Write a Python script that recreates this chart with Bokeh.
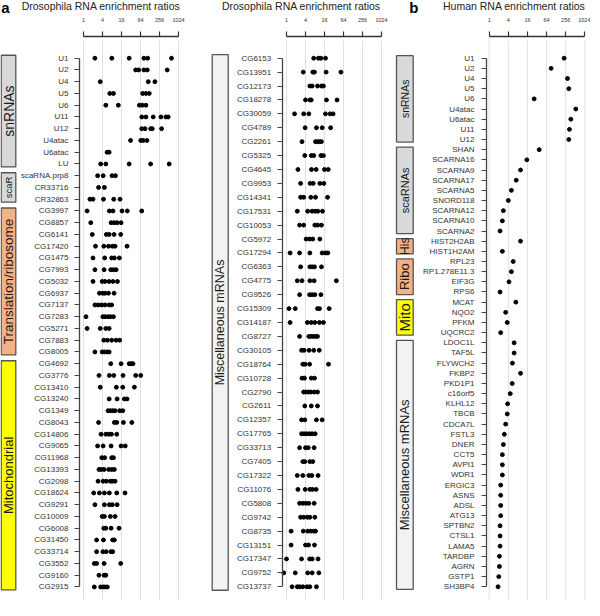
import math
from bokeh.plotting import figure
from bokeh.models import (Range1d, LogScale, LogAxis, LinearAxis, FixedTicker, Label,
                          ColumnDataSource)
from bokeh.layouts import row
from bokeh.embed import file_html
from bokeh.resources import INLINE
from bokeh.core.properties import value

# ---------------- data ----------------
TICKS = [1, 4, 16, 64, 256, 1024]
TICK_LABELS = ["1", "4", "16", "64", "256", "1024"]

dros1_names = ["U1", "U2", "U4", "U5", "U6", "U11", "U12", "U4atac", "U6atac", "LU",
               "scaRNA.prp8", "CR33716", "CR32863",
               "CG3997", "CG8857", "CG6141", "CG17420", "CG1475", "CG7993", "CG5032",
               "CG6937", "CG7137", "CG7283", "CG5271", "CG7883", "CG8005",
               "CG4692", "CG3776", "CG13410", "CG13240", "CG1349", "CG8043", "CG14806",
               "CG9065", "CG11968", "CG13393", "CG2098", "CG18624", "CG9291", "CG10009",
               "CG6008", "CG31450", "CG33714", "CG3552", "CG9160", "CG2915"]
dros1_ratios = [
    [2.3, 7.9, 28, 82, 108, 615], [45, 56, 82, 105, 449], [3.4, 113, 183],
    [6.8, 8.9, 75, 95, 121], [5.1, 12.7, 59, 73, 95], [70, 95, 162, 284, 408, 483],
    [70, 89, 134, 151, 298], [31, 65, 78, 102], [5.6, 6.5], [3.5, 5.1, 28, 134, 519],
    [2.8, 4.2, 8.0, 10.3], [3.0, 4.6], [1.6, 2.0, 4.3, 9.1, 14.4],
    [1.3, 6.6, 8.6, 16.6, 24.5, 70], [1.7, 7.5, 9.3, 11.6, 15.5], [1.9, 5.3, 6.5, 9.3, 15.1],
    [2.4, 4.4, 6.2, 8.2, 10, 24], [2.0, 4.7, 7.8, 9.5, 13.7], [2.3, 4.5, 7.3, 8.9, 10.8],
    [2.0, 3.9, 4.8, 6.5, 8.6, 11.9], [3.2, 4.1, 4.8, 6.2, 9.3], [2.3, 2.9, 3.7, 4.8, 6.5, 7.8],
    [1.2, 4.1, 4.8, 5.9, 7.1, 8.9], [1.3, 3.4, 5.1, 6.5], [4.4, 5.7, 7.8, 10.8, 14],
    [2.3, 3.9, 4.6, 5.6, 6.5],
    [7.3, 15.5, 28, 32, 37], [3.1, 6.6, 9.1, 17.9, 45, 65], [3.4, 11, 17.5, 41],
    [6.5, 11.6, 19.7, 24], [6.0, 7.1, 8.4, 10, 14, 17.5], [3.0, 9.5, 11.3, 18.4, 34],
    [3.6, 5.1, 6.3, 7.7, 11.3], [2.8, 4.2, 7.5, 15.5, 21], [3.8, 4.7, 7.8, 8.9],
    [3.1, 3.7, 4.5, 6.3, 7.8, 9.5], [2.9, 4.2, 5.3, 7.1, 8.2, 10],
    [2.1, 3.2, 4.6, 6.6, 11.3, 20.7], [2.3, 4.6, 6.6, 8.2, 11.6], [3.9, 4.6, 7.1, 10],
    [4.4, 5.1, 7.5, 13.4], [2.6, 4.3, 8.4, 9.5], [2.6, 4.1, 5.2, 7.3, 8.4],
    [2.2, 2.6, 4.5, 15.1], [3.1, 4.5, 5.1], [2.2, 3.5, 4.2, 4.8, 5.7]]
dros1_groups = ["snRNAs", "scaR", "Translation/ribosome", "Mitochondrial"]
dros1_group_sizes = [10, 3, 13, 20]

dros2_names = ["CG6153", "CG13951", "CG12173", "CG18278", "CG30059", "CG4789", "CG2261",
               "CG5325", "CG4645", "CG9953", "CG14341", "CG17531", "CG10053", "CG5972",
               "CG17294", "CG6363", "CG4775", "CG9526", "CG15309", "CG14187", "CG8727",
               "CG30105", "CG18764", "CG10728", "CG2790", "CG2611", "CG12357", "CG17765",
               "CG33713", "CG7405", "CG17322", "CG11076", "CG5808", "CG9742", "CG8735",
               "CG13151", "CG17347", "CG9752", "CG13737"]
dros2_ratios = [
    [7.3, 10.3, 12.3, 17.2], [3.4, 6.8, 7.7, 18, 53], [5.5, 6.5, 9.6, 12.8, 14.8],
    [4.0, 5.5, 6.1, 18.5, 40], [1.8, 3.5, 5.1, 17.2, 24, 30], [3.9, 8.9, 13.5, 25],
    [3.1, 8.3, 9.6, 11.1, 12.8], [3.8, 6.1, 7.3, 12.3, 14.8], [2.3, 6.2, 8.7, 16, 21],
    [2.8, 5.6, 7.0, 11.4, 15.2], [2.8, 3.5, 5.9, 8.3, 20], [2.2, 4.7, 6.5, 8.1, 9.8, 13.8],
    [2.6, 3.5, 7.9, 9.8, 12.8], [4.2, 5.4, 6.8, 11.4], [1.3, 2.6, 5.5, 13.5, 17.2, 20.4],
    [2.8, 5.5, 6.5, 7.7, 12.8], [2.2, 3.1, 5.5, 7.5, 38], [2.6, 5.4, 6.5, 7.9, 12.3],
    [1.2, 1.9, 9.6, 11.1, 22.5], [1.3, 4.6, 6.1, 7.9, 11.1, 14.8],
    [2.6, 5.1, 5.9, 7.0, 8.3, 9.6], [3.0, 3.6, 5.2, 7.3, 10.9], [3.3, 3.9, 5.4, 21.4],
    [3.1, 3.7, 6.1, 7.7], [3.5, 4.1, 4.9, 5.9, 7.5, 9.6], [3.8, 6.1, 9.6],
    [3.0, 3.8, 8.9, 13.5], [3.0, 3.6, 4.4, 5.4, 6.5, 8.1], [2.6, 4.0, 4.9, 7.5],
    [3.3, 3.8, 5.5, 6.8], [2.2, 3.3, 5.1, 6.3, 10], [2.3, 3.9, 5.5, 6.7, 8.7],
    [2.6, 3.3, 4.1, 5.1, 7.5], [2.8, 3.5, 4.6, 5.5, 7.9], [1.4, 3.4, 4.7, 5.9, 7.3, 8.3],
    [1.4, 4.0, 5.0, 7.7], [1.0, 3.0, 5.4, 6.5, 10], [0.82, 1.9, 4.7, 6.5, 10.6],
    [1.5, 2.2, 2.6, 3.3, 4.5, 5.5, 8.9]]
dros2_groups = ["Miscellaneous mRNAs"]
dros2_group_sizes = [39]

human_names = ["U1", "U2", "U4", "U5", "U6", "U4atac", "U6atac", "U11", "U12",
               "SHAN", "SCARNA16", "SCARNA9", "SCARNA17", "SCARNA5", "SNORD118",
               "SCARNA12", "SCARNA10", "SCARNA2", "HIST2H2AB", "HIST1H2AM",
               "RPL23", "RP1.278E11.3", "EIF3G", "RPS6", "MCAT", "NQO2", "PFKM", "UQCRC2",
               "LDOC1L", "TAF5L", "FLYWCH2", "FKBP2", "PKD1P1", "c16orf5", "KLHL12", "TBCB",
               "CDCA7L", "FSTL3", "DNER", "CCT5", "AVPI1", "WDR1", "ERGIC3", "ASNS", "ADSL",
               "ATG13", "SPTBN2", "CTSL1", "LAMA5", "TARDBP", "AGRN", "GSTP1", "SH3BP4"]
human_ratios = [
    [229], [89], [292], [321], [26], [533], [372], [337], [321],
    [37.5], [15.3], [9.7], [7.1], [5.0], [4.0], [2.8], [2.6], [2.2], [9.7], [2.6],
    [5.7], [5.0], [4.2], [2.2], [6.9], [3.3], [3.7], [2.3],
    [6.1], [6.1], [5.4], [9.7], [5.3], [4.6], [3.8], [3.7], [3.3], [3.0], [2.8], [2.6],
    [2.6], [2.6], [2.3], [2.3], [2.3], [2.3], [2.2], [2.2], [2.2], [2.1], [2.1], [2.0], [1.9]]
human_groups = ["snRNAs", "scaRNAs", "His", "Ribo", "Mito", "Miscellaneous mRNAs"]
human_group_sizes = [9, 9, 2, 4, 4, 25]

# ---------------- styles / layout ----------------
GRAY, PEACH, YELLOW, LIGHT = "#D9D9D9", "#F4B183", "#FFFF00", "#F2F2F2"
FONT = "Liberation Sans"

geo1 = dict(frame_x=(2, 194), one_x=85, k=9.5, row0=65.7, step=11.75, axis_x=81,
            box=(2.7, 17.3), title_x=102.5, letter_x=2.7, standoff=6,
            fills=[GRAY, GRAY, PEACH, YELLOW], fonts=[14, 9.5, 13.5, 13])
geo2 = dict(frame_x=(197, 397), one_x=291, k=9.5, row0=65.7, step=13.91, axis_x=286.7,
            box=(216.7, 232.7), title_x=305.8, letter_x=None, standoff=6,
            fills=[LIGHT], fonts=[12.5])
geo3 = dict(frame_x=(400, 598), one_x=496.7, k=9.56, row0=65.7, step=10.165, axis_x=494,
            box=(404, 420.7), title_x=521.7, letter_x=416.7, standoff=7,
            fills=[GRAY, GRAY, PEACH, PEACH, YELLOW, LIGHT], fonts=[10.5, 11, 12, 13, 15, 13])


def build_panel(names, ratios, groups, sizes, geo, title, letter):
    x_lo, x_hi = geo["frame_x"]
    p = figure(width=int(round(x_hi - x_lo)), height=600, output_backend="svg",
               toolbar_location=None, x_range=Range1d(x_lo, x_hi), y_range=Range1d(608, 8),
               x_axis_type=None, y_axis_type=None, min_border=0,
               min_border_left=0, min_border_right=0, min_border_top=0, min_border_bottom=0,
               outline_line_color=None, background_fill_color="white",
               border_fill_color="white")
    n = len(names)
    s, r0 = geo["step"], geo["row0"]
    x1, k = geo["one_x"], geo["k"]
    p.extra_y_ranges = {"rows": Range1d((608 - r0) / s, (8 - r0) / s)}
    p.extra_x_ranges = {"ratio": Range1d(2 ** ((x_lo - x1) / k), 2 ** ((x_hi - x1) / k))}
    p.extra_x_scales = {"ratio": LogScale()}

    # grid lines at ticks
    p.segment(x0=TICKS, x1=TICKS, y0=[48] * len(TICKS), y1=[616] * len(TICKS),
              x_range_name="ratio", line_color="#E0E0E0", line_width=1)

    # group boxes
    starts, acc = [], 0
    for sz in sizes:
        starts.append(acc)
        acc += sz
    pad = 0.25
    tops = [st - 0.5 + pad for st in starts]
    bottoms = [st + sz - 0.5 - pad for st, sz in zip(starts, sizes)]
    bx0, bx1 = geo["box"]
    box_src = ColumnDataSource(dict(
        top=tops, bottom=bottoms, fill=geo["fills"], name=groups,
        mid=[(t + b) / 2 for t, b in zip(tops, bottoms)],
        xc=[(bx0 + bx1) / 2] * len(groups),
        fs=[f"{f}px" for f in geo["fonts"]]))
    p.quad(left=bx0, right=bx1, top="top", bottom="bottom", source=box_src,
           y_range_name="rows", fill_color="fill", line_color="#555555", line_width=1.3)
    p.text(x="xc", y="mid", text="name", source=box_src, y_range_name="rows",
           angle=math.pi / 2, text_align="center", text_baseline="middle",
           text_font=value(FONT), text_font_size="fs", text_color="#1a1a1a")

    # dots
    xs, ys = [], []
    for i, vals in enumerate(ratios):
        for v in vals:
            xs.append(v)
            ys.append(i)
    p.scatter(x="ratio", y="row", source=ColumnDataSource(dict(ratio=xs, row=ys)),
              x_range_name="ratio", y_range_name="rows", size=3.9,
              fill_color="black", line_color="black")

    # top axis
    xa = LogAxis(x_range_name="ratio", fixed_location=43.5,
                 ticker=FixedTicker(ticks=TICKS, minor_ticks=[]), bounds=(1, 1024),
                 major_label_overrides=dict(zip(TICKS, TICK_LABELS)))
    xa.axis_line_color = "#333333"
    xa.axis_line_width = 1.3
    xa.major_tick_line_color = "#333333"
    xa.major_tick_line_width = 1.2
    xa.major_tick_in = 0
    xa.major_tick_out = 5
    xa.minor_tick_line_color = None
    xa.major_label_standoff = 9
    xa.major_label_text_font = FONT
    xa.major_label_text_font_size = "5.5px"
    xa.major_label_text_color = "#333333"
    p.add_layout(xa, "above")

    # left axis with category names
    ya = LinearAxis(y_range_name="rows", fixed_location=geo["axis_x"],
                    ticker=FixedTicker(ticks=list(range(n)), minor_ticks=[]),
                    bounds=(0, n - 1),
                    major_label_overrides={i: nm for i, nm in enumerate(names)})
    ya.axis_line_color = "#444444"
    ya.axis_line_width = 1.3
    ya.major_tick_line_color = "#444444"
    ya.major_tick_line_width = 1.2
    ya.major_tick_in = 0
    ya.major_tick_out = 5
    ya.minor_tick_line_color = None
    ya.major_label_standoff = geo["standoff"]
    ya.major_label_text_font = FONT
    ya.major_label_text_font_size = "8px"
    ya.major_label_text_color = "#333333"
    p.add_layout(ya, "left")

    p.add_layout(Label(x=geo["title_x"], y=13.5, text=title, text_align="center",
                       text_baseline="alphabetic", text_font=FONT,
                       text_font_size="10.5px", text_color="#222222"))
    if letter:
        p.add_layout(Label(x=geo["letter_x"], y=14.5, text=letter, text_align="left",
                           text_baseline="alphabetic", text_font=FONT,
                           text_font_style="bold", text_font_size="15px",
                           text_color="black"))
    return p


p1 = build_panel(dros1_names, dros1_ratios, dros1_groups, dros1_group_sizes, geo1,
                 "Drosophila RNA enrichment ratios", "a")
p2 = build_panel(dros2_names, dros2_ratios, dros2_groups, dros2_group_sizes, geo2,
                 "Drosophila RNA enrichment ratios", None)
p3 = build_panel(human_names, human_ratios, human_groups, human_group_sizes, geo3,
                 "Human RNA enrichment ratios", "b")

layout = row(p1, p2, p3)
open("out.html", "w").write(file_html(layout, INLINE))
